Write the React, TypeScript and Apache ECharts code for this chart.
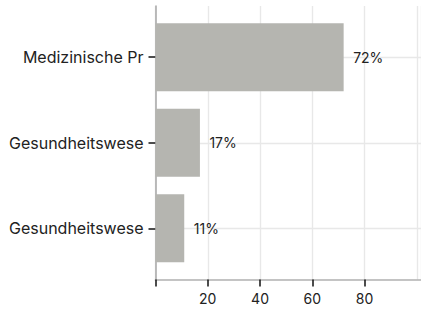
import React, { useEffect, useRef } from "react";
import * as echarts from "echarts";

const categories = ["Medizinische Pr", "Gesundheitswese", "Gesundheitswese"];
const values = [72, 17, 11];
const xTickValues = [0, 20, 40, 60, 80];
const xLabelValues = [20, 40, 60, 80];

const FONT = "Inter";
const X_MAX = 101.6;
const PAD = 0.0994;

export default function App() {
  const ref = useRef<HTMLDivElement>(null);
  useEffect(() => {
    if (!ref.current) return;
    const chart = echarts.init(ref.current, null, { renderer: "svg" });
    const idx = categories.map((_, i) => i);
    chart.setOption({
      animation: false,
      backgroundColor: "#ffffff",
      grid: [
        { left: 155.5, right: 0, top: 6, bottom: 31.5 },
        { left: 155.5, right: 0, top: 14.5, bottom: 40 },
      ],
      xAxis: [
        {
          type: "value", gridIndex: 0, position: "bottom", min: 0, max: X_MAX, interval: 20,
          axisLine: { show: true, onZero: false, lineStyle: { color: "#b0b0b0", width: 1.7 } },
          axisTick: { show: false }, axisLabel: { show: false },
          splitLine: { show: true, lineStyle: { color: "#e8e8e8", width: 1.4 } },
        },
        {
          type: "value", gridIndex: 0, position: "bottom", min: 0, max: X_MAX,
          axisLine: { show: false, onZero: false },
          axisTick: { show: true, length: 7, customValues: xTickValues, lineStyle: { color: "#111", width: 1.5 } },
          axisLabel: { show: true, customValues: xLabelValues, margin: 12, color: "#222", fontFamily: FONT, fontSize: 14 },
          splitLine: { show: false },
        },
        {
          type: "value", gridIndex: 1, position: "bottom", min: 0, max: X_MAX, show: false,
        },
      ],
      yAxis: [
        {
          type: "value", gridIndex: 0, position: "left", inverse: true, min: -0.5 - PAD, max: 2.5 + PAD,
          axisLine: { show: true, onZero: false, lineStyle: { color: "#b0b0b0", width: 1.7 } },
          axisTick: { show: true, length: 7, customValues: idx, lineStyle: { color: "#111", width: 1.5 } },
          axisLabel: {
            show: true, customValues: idx, margin: 12, color: "#222", fontFamily: FONT, fontSize: 16,
            formatter: (v: number) => categories[Math.round(v)] ?? "",
          },
          splitLine: { show: true, lineStyle: { color: "#e8e8e8", width: 1.4 } },
        },
        {
          type: "category", gridIndex: 1, position: "left", inverse: true, data: idx.map(String), show: false,
        },
      ],
      series: [
        {
          type: "bar", xAxisIndex: 2, yAxisIndex: 1, data: values, barWidth: "79.5%",
          itemStyle: { color: "#b5b5b0" },
          label: {
            show: true, position: "right", distance: 9.5, color: "#222", fontFamily: FONT, fontSize: 14,
            formatter: (p: any) => p.value + "%",
          },
        },
      ],
    });
    return () => chart.dispose();
  }, []);
  return <div ref={ref} style={{ position: "fixed", left: 0, top: 0, width: 421, height: 311 }} />;
}
